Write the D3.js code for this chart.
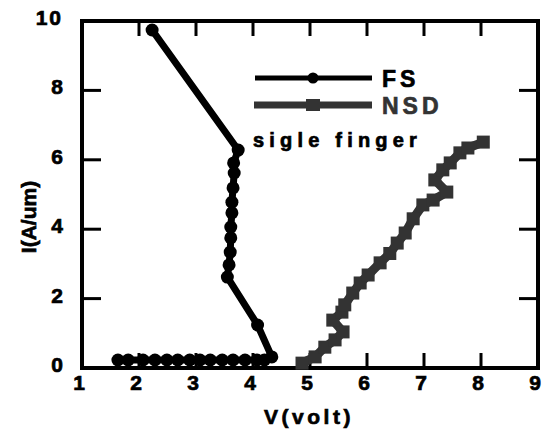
<!DOCTYPE html>
<html><head><meta charset="utf-8">
<script src="https://cdn.jsdelivr.net/npm/d3@7"></script>
<style>html,body{margin:0;padding:0;background:#fff;} svg{display:block;}</style>
</head><body>
<svg id="c" width="546" height="431"></svg>
<script>
const xTicks = [1,2,3,4,5,6,7,8,9];
const yTicks = [0,2,4,6,8,10];
const fsV = [2.23,3.74,3.66,3.67,3.65,3.63,3.63,3.61,3.61,3.60,3.58,3.55,4.08,4.33,4.20,4.07,3.86,3.65,3.46,3.25,3.07,2.89,2.68,2.49,2.28,2.07,1.81,1.63];
const fsI = [9.74,6.28,5.91,5.62,5.19,4.78,4.47,4.06,3.75,3.34,2.97,2.62,1.24,0.32,0.23,0.23,0.23,0.23,0.23,0.23,0.23,0.23,0.23,0.23,0.23,0.23,0.23,0.23];
const nsdV = [4.86,5.09,5.26,5.44,5.58,5.40,5.56,5.61,5.75,5.88,6.02,6.23,6.40,6.53,6.67,6.81,6.98,7.16,7.40,7.19,7.33,7.46,7.63,7.77,8.04];
const nsdI = [0.14,0.32,0.60,0.81,1.04,1.38,1.61,1.82,2.16,2.45,2.68,3.03,3.30,3.60,3.89,4.30,4.70,4.84,5.07,5.42,5.71,5.91,6.20,6.34,6.51];
const seriesNames = ["FS","NSD"];
const note = "sigle finger";

const svg = d3.select("#c");
const L=82,R=538,T=21,B=368;
const x = d3.scaleLinear().domain([1,9]).range([L,R]);
const y = d3.scaleLinear().domain([0,10]).range([B,T]);
const font = "'Liberation Sans', Arial, sans-serif";
function bold(sel, size, color){
  return sel.attr("font-family",font).attr("font-weight","bold").attr("font-size",size)
    .attr("fill",color||"#000").attr("stroke",color||"#000").attr("stroke-width",0.7);
}

// ticks
const g = svg.append("g");
xTicks.slice(1,-1).forEach(t=>{
  g.append("line").attr("x1",x(t)).attr("x2",x(t)).attr("y1",B).attr("y2",B-15).attr("stroke","#000").attr("stroke-width",3);
  g.append("line").attr("x1",x(t)).attr("x2",x(t)).attr("y1",T).attr("y2",T+15).attr("stroke","#000").attr("stroke-width",3);
});
yTicks.slice(1,-1).forEach(t=>{
  g.append("line").attr("x1",L).attr("x2",L+19).attr("y1",y(t)).attr("y2",y(t)).attr("stroke","#000").attr("stroke-width",3);
  g.append("line").attr("x1",R).attr("x2",R-19).attr("y1",y(t)).attr("y2",y(t)).attr("stroke","#000").attr("stroke-width",3);
});
g.append("rect").attr("x",L).attr("y",T).attr("width",R-L).attr("height",B-T).attr("fill","none").attr("stroke","#000").attr("stroke-width",4);

// tick labels
xTicks.forEach(t=>{
  bold(svg.append("text").attr("x",x(t)-3).attr("y",390).attr("text-anchor","middle"),21).text(t);
});
yTicks.forEach(t=>{
  bold(svg.append("text").attr("x",63).attr("y",y(t)+4).attr("text-anchor","end"),21)
    .attr("letter-spacing", t>=10?2:0).text(t);
});
bold(svg.append("text").attr("x",309).attr("y",424).attr("text-anchor","middle"),21).attr("letter-spacing",3.5).text("V(volt)");
bold(svg.append("text").attr("transform","translate(36,217) rotate(-90)").attr("text-anchor","middle"),21).text("I(A/um)");

// data
const line = d3.line().x(d=>x(d[0])).y(d=>y(d[1]));
const fs = fsV.map((v,i)=>[v,fsI[i]]);
const nsd = nsdV.map((v,i)=>[v,nsdI[i]]);
const nsdColor = "#333333";
svg.append("path").attr("d",line(nsd)).attr("fill","none").attr("stroke",nsdColor).attr("stroke-width",9).attr("stroke-linejoin","round");
svg.selectAll(".sq").data(nsd).enter().append("rect").attr("x",d=>x(d[0])-6.5).attr("y",d=>y(d[1])-6.5).attr("width",13).attr("height",13).attr("fill",nsdColor);
svg.append("path").attr("d",line(fs)).attr("fill","none").attr("stroke","#000").attr("stroke-width",7).attr("stroke-linejoin","round");
svg.selectAll(".ci").data(fs).enter().append("circle").attr("cx",d=>x(d[0])).attr("cy",d=>y(d[1])).attr("r",6.5).attr("fill","#000");

// legend
svg.append("line").attr("x1",255).attr("x2",372).attr("y1",78).attr("y2",78).attr("stroke","#000").attr("stroke-width",5);
svg.append("circle").attr("cx",313).attr("cy",78).attr("r",5.5).attr("fill","#000");
svg.append("line").attr("x1",254).attr("x2",372).attr("y1",105).attr("y2",105).attr("stroke",nsdColor).attr("stroke-width",7);
svg.append("rect").attr("x",306).attr("y",99).attr("width",14).attr("height",12).attr("fill",nsdColor);
bold(svg.append("text").attr("x",382).attr("y",87),23).attr("letter-spacing",4).text(seriesNames[0]);
bold(svg.append("text").attr("x",382).attr("y",114),23,nsdColor).attr("letter-spacing",4).text(seriesNames[1]);
bold(svg.append("text").attr("x",253).attr("y",147),20).attr("letter-spacing",5.2).text(note);
</script>
</body></html>
